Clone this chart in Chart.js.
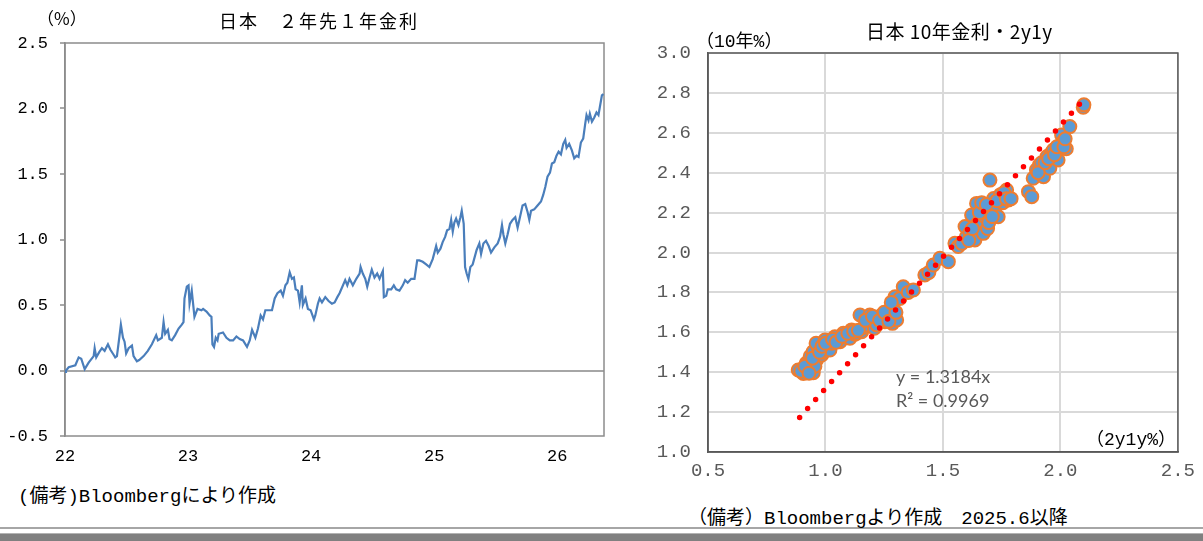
<!DOCTYPE html>
<html lang="ja">
<head>
<meta charset="utf-8">
<title>日本 2年先1年金利 / 10年金利・2y1y</title>
<script src="https://cdn.jsdelivr.net/npm/chart.js@4.4.1/dist/chart.umd.min.js"></script>
<style>
  html, body { margin: 0; padding: 0; background: #fff; }
  body { width: 1203px; height: 541px; position: relative; overflow: hidden; }
  canvas { position: absolute; top: 0; }
  #fwdCanvas { left: 0; }
  #scatCanvas { left: 620px; }
  .txt { position: absolute; white-space: nowrap; line-height: 1; color: #000;
         font-family: "Liberation Mono", "Noto Sans CJK JP", monospace; z-index: 2; }
  .cjk { font-family: "Noto Sans CJK JP", sans-serif; }
  .rule { position: absolute; left: 0; width: 1203px; }
</style>
</head>
<body>
<canvas id="fwdCanvas" width="620" height="480"></canvas>
<canvas id="scatCanvas" width="583" height="500"></canvas>

<div class="txt cjk" style="left:219px;top:11px;font-size:18px;letter-spacing:2px;">日本　２年先１年金利</div>
<div class="txt cjk" style="left:37px;top:9px;font-size:17px;">（%）</div>
<div class="txt" style="left:18px;top:488px;font-size:19px;">(備考)Bloombergにより作成</div>

<div class="txt cjk" style="left:866px;top:21px;font-size:19px;letter-spacing:0.5px;">日本 10年金利・2y1y</div>
<div class="txt" style="left:696px;top:33px;font-size:18px;">（10年%）</div>
<div class="txt" style="left:1086px;top:431px;font-size:18px;">（2y1y%）</div>
<div class="txt" style="left:688px;top:510px;font-size:19px;">（備考）Bloombergより作成　2025.6以降</div>

<div class="rule" style="top:527px;height:2px;background:#a6a6a6;"></div>
<div class="rule" style="top:533px;height:8px;background:#808080;border-top:1px solid #b3b3b3;box-sizing:border-box;"></div>

<script>
// ---- 2年先1年金利 (daily path, year axis: 22 = 2022) ----
const yearTicks = [22, 23, 24, 25, 26];

const fwdTime = [
  22.000, 22.008, 22.030, 22.084, 22.111, 22.132, 22.160, 22.192, 22.233, 22.241,
  22.254, 22.278, 22.300, 22.322, 22.349, 22.368, 22.395, 22.408, 22.422, 22.441,
  22.454, 22.471, 22.484, 22.497, 22.517, 22.544, 22.557, 22.584, 22.603, 22.639,
  22.673, 22.706, 22.741, 22.755, 22.787, 22.801, 22.814, 22.836, 22.849, 22.868,
  22.895, 22.923, 22.949, 22.963, 22.971, 22.990, 23.004, 23.012, 23.030, 23.052,
  23.077, 23.109, 23.122, 23.150, 23.176, 23.190, 23.198, 23.211, 23.225, 23.239,
  23.249, 23.284, 23.312, 23.339, 23.366, 23.393, 23.420, 23.447, 23.479, 23.501,
  23.520, 23.547, 23.568, 23.590, 23.609, 23.628, 23.649, 23.682, 23.704, 23.726,
  23.753, 23.771, 23.791, 23.807, 23.826, 23.844, 23.860, 23.874, 23.893, 23.907,
  23.925, 23.933, 23.955, 23.974, 23.996, 24.023, 24.034, 24.055, 24.069, 24.088,
  24.115, 24.142, 24.169, 24.191, 24.213, 24.231, 24.245, 24.277, 24.294, 24.312,
  24.339, 24.367, 24.394, 24.402, 24.420, 24.440, 24.456, 24.475, 24.493, 24.515,
  24.537, 24.556, 24.583, 24.591, 24.610, 24.623, 24.651, 24.672, 24.691, 24.718,
  24.745, 24.764, 24.785, 24.813, 24.840, 24.862, 24.880, 24.907, 24.935, 24.961,
  24.988, 25.002, 25.016, 25.029, 25.051, 25.069, 25.089, 25.105, 25.124, 25.138,
  25.151, 25.164, 25.178, 25.197, 25.213, 25.224, 25.240, 25.251, 25.264, 25.278,
  25.294, 25.313, 25.345, 25.367, 25.381, 25.400, 25.421, 25.443, 25.462, 25.489,
  25.516, 25.535, 25.551, 25.562, 25.578, 25.597, 25.616, 25.637, 25.659, 25.678,
  25.697, 25.718, 25.740, 25.759, 25.773, 25.787, 25.813, 25.840, 25.868, 25.886,
  25.903, 25.921, 25.941, 25.957, 25.976, 25.994, 26.011, 26.030, 26.049, 26.065,
  26.076, 26.097, 26.119, 26.138, 26.157, 26.173, 26.192, 26.211, 26.227, 26.238,
  26.254, 26.265, 26.282, 26.300, 26.319, 26.335, 26.346, 26.363, 26.376
];

const fwdRate = [
  -0.01, 0.00, 0.025, 0.04, 0.10, 0.09, 0.01, 0.06, 0.11, 0.17,
  0.10, 0.14, 0.17, 0.15, 0.20, 0.16, 0.12, 0.10, 0.11, 0.25,
  0.35, 0.25, 0.22, 0.13, 0.17, 0.19, 0.11, 0.07, 0.08, 0.11,
  0.15, 0.20, 0.27, 0.23, 0.25, 0.37, 0.28, 0.31, 0.24, 0.23,
  0.27, 0.32, 0.35, 0.37, 0.55, 0.64, 0.65, 0.51, 0.61, 0.41,
  0.47, 0.46, 0.47, 0.45, 0.42, 0.41, 0.20, 0.18, 0.25, 0.23,
  0.28, 0.29, 0.25, 0.23, 0.23, 0.26, 0.24, 0.23, 0.18, 0.23,
  0.31, 0.25, 0.32, 0.42, 0.39, 0.46, 0.46, 0.46, 0.55, 0.59,
  0.61, 0.57, 0.65, 0.67, 0.75, 0.70, 0.71, 0.62, 0.61, 0.52,
  0.65, 0.50, 0.55, 0.47, 0.46, 0.39, 0.42, 0.51, 0.55, 0.52,
  0.56, 0.53, 0.51, 0.52, 0.56, 0.59, 0.62, 0.69, 0.65, 0.70,
  0.65, 0.70, 0.74, 0.79, 0.74, 0.70, 0.64, 0.71, 0.77, 0.71,
  0.74, 0.70, 0.76, 0.56, 0.57, 0.62, 0.62, 0.65, 0.62, 0.61,
  0.65, 0.69, 0.67, 0.70, 0.70, 0.84, 0.84, 0.83, 0.81, 0.79,
  0.85, 0.90, 0.95, 0.90, 0.93, 0.98, 1.02, 1.07, 1.08, 1.15,
  1.06, 1.13, 1.16, 1.11, 1.17, 1.22, 1.12, 0.79, 0.74, 0.70,
  0.79, 0.81, 0.92, 0.97, 0.89, 0.97, 0.99, 0.95, 0.90, 0.94,
  0.97, 1.02, 1.11, 1.04, 0.97, 1.04, 1.12, 1.15, 1.17, 1.09,
  1.17, 1.26, 1.27, 1.21, 1.15, 1.22, 1.23, 1.26, 1.29, 1.34,
  1.40, 1.48, 1.51, 1.58, 1.59, 1.64, 1.67, 1.65, 1.73, 1.76,
  1.70, 1.73, 1.68, 1.62, 1.64, 1.63, 1.74, 1.77, 1.88, 1.95,
  1.91, 1.96, 1.90, 1.93, 1.97, 1.95, 2.01, 2.10, 2.11
];

// ---- 10年金利 vs 2y1y (2025.6以降) ----
const scatX = [
  0.884, 0.906, 0.925, 0.948, 0.918, 0.941, 0.962, 0.955, 0.935, 0.948,
  0.970, 0.984, 0.960, 0.998, 0.990, 1.010, 1.019, 1.026, 1.040, 1.050,
  1.062, 1.076, 1.090, 1.104, 1.111, 1.125, 1.133, 1.147, 1.154, 1.165,
  1.175, 1.189, 1.196, 1.208, 1.218, 1.239, 1.253, 1.262, 1.274, 1.285,
  1.303, 1.289, 1.296, 1.317, 1.331, 1.352, 1.374, 1.423, 1.440, 1.459,
  1.487, 1.523, 1.551, 1.565, 1.580, 1.600, 1.594, 1.615, 1.636, 1.622,
  1.643, 1.650, 1.660, 1.672, 1.672, 1.679, 1.690, 1.700, 1.705, 1.716,
  1.725, 1.735, 1.745, 1.755, 1.771, 1.779, 1.864, 1.878, 1.884, 1.898,
  1.911, 1.920, 1.928, 1.943, 1.955, 1.962, 1.970, 1.990, 2.000, 2.005,
  2.012, 2.025, 2.040, 2.097, 2.100,
  0.895, 0.912, 0.930, 0.945, 0.975, 0.985, 1.000, 1.030, 1.045, 1.070,
  1.095, 1.120, 1.140, 1.170, 1.200, 1.230, 1.250, 1.270, 1.300, 1.280,
  1.610, 1.625, 1.655, 1.665, 1.685, 1.695, 1.710, 1.730, 1.760, 1.770,
  1.790, 1.905, 1.935, 1.950, 1.975, 1.985, 2.015, 2.020
];
const scatY = [
  1.411, 1.394, 1.420, 1.397, 1.445, 1.453, 1.461, 1.430, 1.480, 1.503,
  1.520, 1.486, 1.545, 1.561, 1.500, 1.530, 1.511, 1.545, 1.578, 1.560,
  1.553, 1.595, 1.575, 1.570, 1.612, 1.590, 1.595, 1.687, 1.603, 1.625,
  1.637, 1.687, 1.653, 1.620, 1.637, 1.687, 1.653, 1.670, 1.670, 1.645,
  1.662, 1.712, 1.778, 1.770, 1.828, 1.800, 1.812, 1.887, 1.900, 1.937,
  1.971, 1.954, 2.046, 2.030, 2.046, 2.079, 2.130, 2.100, 2.063, 2.188,
  2.246, 2.150, 2.138, 2.096, 2.221, 2.179, 2.120, 2.363, 2.200, 2.271,
  2.230, 2.179, 2.290, 2.250, 2.313, 2.263, 2.305, 2.280, 2.372, 2.414,
  2.439, 2.450, 2.380, 2.481, 2.422, 2.500, 2.514, 2.464, 2.539, 2.589,
  2.556, 2.520, 2.631, 2.728, 2.740,
  1.405, 1.430, 1.395, 1.470, 1.500, 1.530, 1.545, 1.565, 1.550, 1.580,
  1.595, 1.605, 1.610, 1.660, 1.680, 1.660, 1.700, 1.655, 1.700, 1.750,
  2.060, 2.120, 2.200, 2.250, 2.240, 2.150, 2.180, 2.260, 2.300, 2.270,
  2.270, 2.400, 2.450, 2.470, 2.490, 2.530, 2.530, 2.570
];

// linear trend through the origin: y = 1.3184x, R² = 0.9969
const trendSlope = 1.3184;
const trendR2 = 0.9969;
const trendRange = [0.89, 2.09];

// box drawn around the plotting area
const framePlugin = {
  id: 'frame',
  beforeDatasetsDraw(chart, args, opts) {
    const { ctx, chartArea: a } = chart;
    ctx.save();
    ctx.strokeStyle = opts.color;
    ctx.lineWidth = opts.width;
    ctx.strokeRect(a.left, a.top, a.right - a.left, a.bottom - a.top);
    ctx.restore();
  }
};

// equation and R² written next to the trend line, anchored in data units
const trendLabelPlugin = {
  id: 'trendLabel',
  afterDatasetsDraw(chart, args, opts) {
    if (!opts.lines) return;
    const { ctx, scales: { x, y } } = chart;
    ctx.save();
    ctx.font = opts.font;
    ctx.fillStyle = opts.color;
    ctx.textBaseline = 'middle';
    ctx.textAlign = 'left';
    opts.lines.forEach(l => ctx.fillText(l.text, x.getPixelForValue(l.x), y.getPixelForValue(l.y)));
    ctx.restore();
  }
};

const monoFont = (size) => ({ family: '"Liberation Mono", monospace', size });

new Chart(document.getElementById('fwdCanvas'), {
  type: 'line',
  data: {
    datasets: [{
      data: fwdTime.map((t, i) => ({ x: t, y: fwdRate[i] })),
      borderColor: '#4a7ebb',
      borderWidth: 2.2,
      pointRadius: 0,
      tension: 0
    }]
  },
  options: {
    responsive: false,
    animation: false,
    devicePixelRatio: 1,
    layout: { padding: { top: 43, right: 16, left: 0, bottom: 0 } },
    plugins: {
      legend: { display: false },
      tooltip: { enabled: false },
      frame: { color: '#8c8c8c', width: 1.5 }
    },
    scales: {
      x: {
        type: 'linear',
        min: 22,
        max: 26.38,
        afterBuildTicks: s => { s.ticks = yearTicks.map(v => ({ value: v })); },
        afterFit: s => { s.height = 44; },
        ticks: {
          autoSkip: false, maxRotation: 0, padding: 10, color: '#000',
          font: monoFont(17),
          callback: v => String(v)
        },
        grid: { display: false, drawTicks: false },
        border: { display: false }
      },
      y: {
        min: -0.5,
        max: 2.5,
        afterFit: s => { s.width = 65; },
        ticks: {
          stepSize: 0.5, padding: 12, color: '#000',
          font: monoFont(17),
          callback: v => v.toFixed(1)
        },
        grid: {
          color: c => (c.tick && Math.abs(c.tick.value) < 1e-9) ? '#a6a6a6' : 'rgba(0,0,0,0)',
          lineWidth: 2,
          tickColor: '#8c8c8c',
          tickLength: 5,
          tickWidth: 1.5
        },
        border: { display: true, color: '#8c8c8c', width: 1.5 }
      }
    }
  },
  plugins: [framePlugin]
});

new Chart(document.getElementById('scatCanvas'), {
  type: 'scatter',
  data: {
    datasets: [
      {
        type: 'line',
        data: trendRange.map(x => ({ x, y: trendSlope * x })),
        borderColor: '#ff0000',
        borderWidth: 5.5,
        borderDash: [0, 12],
        borderCapStyle: 'round',
        pointRadius: 0,
        fill: false,
        order: 0
      },
      {
        data: scatX.map((x, i) => ({ x, y: scatY[i] })),
        pointRadius: 6.5,
        pointBorderWidth: 2,
        pointBackgroundColor: '#5b9bd5',
        pointBorderColor: '#ed7d31',
        backgroundColor: '#5b9bd5',
        borderColor: '#ed7d31',
        order: 1
      }
    ]
  },
  options: {
    responsive: false,
    animation: false,
    devicePixelRatio: 1,
    layout: { padding: { top: 53, right: 25, left: 0, bottom: 0 } },
    plugins: {
      legend: { display: false },
      tooltip: { enabled: false },
      frame: { color: '#595959', width: 1.5 },
      trendLabel: {
        font: '18px Lato, "Open Sans", sans-serif',
        color: '#595959',
        lines: [
          { text: 'y = ' + trendSlope + 'x', x: 1.3, y: 1.376 },
          { text: 'R² = ' + trendR2, x: 1.3, y: 1.256 }
        ]
      }
    },
    scales: {
      x: {
        type: 'linear',
        min: 0.5,
        max: 2.5,
        afterFit: s => { s.height = 48; },
        ticks: {
          stepSize: 0.5, padding: 8, color: '#595959',
          font: monoFont(19),
          callback: v => v.toFixed(1)
        },
        grid: { color: '#d9d9d9', lineWidth: 2, drawTicks: false },
        border: { color: '#595959', width: 1.5 }
      },
      y: {
        min: 1.0,
        max: 3.0,
        afterFit: s => { s.width = 88; },
        ticks: {
          stepSize: 0.2, padding: 17, color: '#595959',
          font: monoFont(19),
          callback: v => v.toFixed(1)
        },
        grid: { color: '#d9d9d9', lineWidth: 2, drawTicks: false },
        border: { color: '#595959', width: 1.5 }
      }
    }
  },
  plugins: [framePlugin, trendLabelPlugin]
});
</script>
</body>
</html>
